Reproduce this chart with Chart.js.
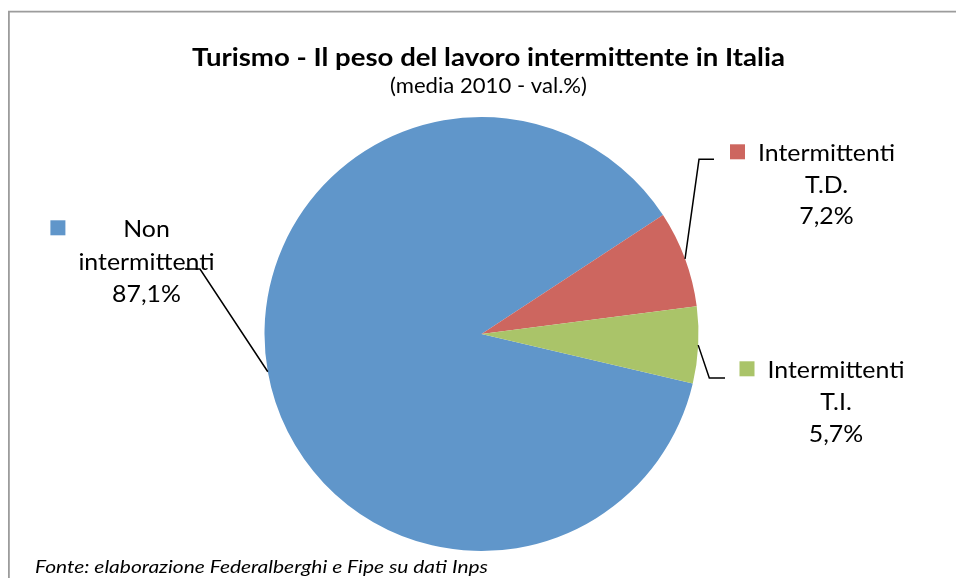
<!DOCTYPE html>
<html>
<head>
<meta charset="utf-8">
<script src="https://cdn.jsdelivr.net/npm/chart.js@4/dist/chart.umd.min.js"></script>
<style>
  html, body { margin: 0; padding: 0; background: #ffffff; }
  #wrap { position: relative; width: 956px; height: 578px; }
</style>
</head>
<body>
<div id="wrap"><canvas id="c"></canvas></div>
<script>
// ---- data ----
const categories = ['Non intermittenti', 'Intermittenti T.D.', 'Intermittenti T.I.'];
const values = [87.1, 7.2, 5.7];
const labelLines = [['Non', 'intermittenti'], ['Intermittenti', 'T.D.'], ['Intermittenti', 'T.I.']];
const colors = ['#6096CA', '#CD665F', '#AAC469'];
const titleText = 'Turismo - Il peso del lavoro intermittente in Italia';
const subtitleText = '(media 2010 - val.%)';
const sourceText = 'Fonte: elaborazione Federalberghi e Fipe su dati Inps';

function pct(v) { return v.toFixed(1).replace('.', ',') + '%'; }

const FAM = 'Lato, "Open Sans", sans-serif';

// draw text at a given font size, horizontally scaled so that a reference string has the target width
function scaledText(ctx, text, x, y, size, weight, style, refText, target, align) {
  ctx.font = style + ' ' + weight + ' ' + size + 'px ' + FAM;
  const sx = target / ctx.measureText(refText).width;
  ctx.save();
  ctx.translate(x, y);
  ctx.scale(sx, 1);
  ctx.textAlign = align;
  ctx.fillText(text, 0, 0);
  ctx.restore();
  return ctx.measureText(text).width * sx;
}

// layout of the data labels (text block centre, first baseline, leader elbow and end)
const labelLayout = [
  { cx: 146.5, base: 237.3, gap: 32.2, elbow: [200, 269], end: [185, 269] },
  { cx: 826.5, base: 161.3, gap: 31.5, elbow: [699, 159.3], end: [714, 159.3] },
  { cx: 836.0, base: 378.3, gap: 31.7, elbow: [709.3, 378], end: [725, 378] }
];

const decor = {
  id: 'decor',
  afterDraw(chart) {
    const ctx = chart.ctx;
    ctx.save();
    // frame
    ctx.strokeStyle = '#9c9c9c';
    ctx.lineWidth = 1.8;
    ctx.beginPath();
    ctx.moveTo(8.9, 600);
    ctx.lineTo(8.9, 11.7);
    ctx.lineTo(970, 11.7);
    ctx.stroke();

    ctx.fillStyle = '#000000';
    ctx.textBaseline = 'alphabetic';
    // title + subtitle
    scaledText(ctx, titleText, 488.4, 66, 24.5, 'bold', 'normal', titleText, 593, 'center');
    scaledText(ctx, subtitleText, 488.5, 93, 21, 'normal', 'normal', subtitleText, 197, 'center');
    // source
    scaledText(ctx, sourceText, 35, 572.5, 17.5, 'normal', 'italic', sourceText, 453, 'left');

    // data labels
    const meta = chart.getDatasetMeta(0);
    meta.data.forEach((arc, i) => {
      const p = arc.getProps(['x', 'y', 'startAngle', 'endAngle', 'outerRadius'], true);
      const mid = (p.startAngle + p.endAngle) / 2;
      const sx = p.x + Math.cos(mid) * p.outerRadius;
      const sy = p.y + Math.sin(mid) * p.outerRadius;
      const L = labelLayout[i];
      // leader line
      ctx.strokeStyle = '#000000';
      ctx.lineWidth = 1.5;
      ctx.beginPath();
      ctx.moveTo(sx, sy);
      ctx.lineTo(L.elbow[0], L.elbow[1]);
      ctx.lineTo(L.end[0], L.end[1]);
      ctx.stroke();
      // text
      ctx.fillStyle = '#000000';
      const lines = labelLines[i].concat([pct(values[i])]);
      let maxW = 0;
      lines.forEach((t, k) => {
        const w = scaledText(ctx, t, L.cx, L.base + k * L.gap, 23, 'normal', 'normal', 'Intermittenti', 137, 'center');
        maxW = Math.max(maxW, w);
      });
      // legend key
      ctx.fillStyle = colors[i];
      ctx.fillRect(L.cx - maxW / 2 - 28, L.base - 17, 15, 15);
    });
    ctx.restore();
  }
};

new Chart(document.getElementById('c'), {
  type: 'pie',
  data: {
    labels: categories,
    datasets: [{
      data: values,
      backgroundColor: colors,
      borderWidth: 0
    }]
  },
  options: {
    responsive: true,
    maintainAspectRatio: false,
    animation: false,
    events: [],
    devicePixelRatio: 1,
    rotation: 103.2,
    layout: { padding: { left: 264, right: 257, top: 117, bottom: 27 } },
    plugins: {
      legend: { display: false },
      tooltip: { enabled: false },
      title: { display: false }
    }
  },
  plugins: [decor]
});
</script>
</body>
</html>
